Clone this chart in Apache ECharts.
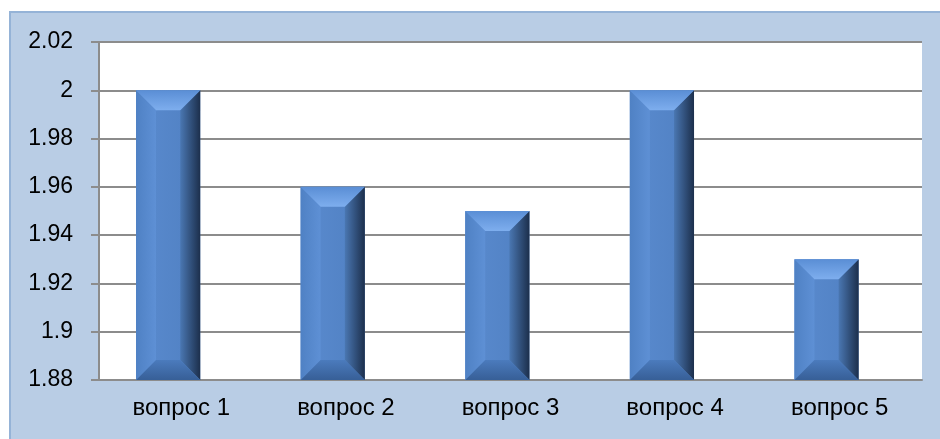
<!DOCTYPE html>
<html>
<head>
<meta charset="utf-8">
<script src="https://cdn.jsdelivr.net/npm/echarts@6/dist/echarts.min.js"></script>
<style>
  html, body { margin: 0; padding: 0; background: #fff; overflow: hidden; }
  #frame {
    position: absolute; left: 9px; top: 11px; width: 960px; height: 460px;
    background: #b9cde5; border-top: 2px solid #95b3d7; border-left: 2px solid #95b3d7;
  }
  #chart { position: absolute; left: 0; top: 0; width: 940px; height: 439px; }
</style>
</head>
<body>
<div id="frame"></div>
<div id="chart"></div>
<script>
// вопросы и средние оценки
const categories = ['вопрос 1', 'вопрос 2', 'вопрос 3', 'вопрос 4', 'вопрос 5']
const values = [2, 1.96, 1.95, 2, 1.93]
const yMin = 1.88
const yMax = 2.02
const yStep = 0.02

const chart = echarts.init(document.getElementById('chart'))

// bar with bevelled edges, like the office "3D" preset
function renderBevelBar(params, api) {
  const idx = api.value(0)
  const top = api.coord([idx, api.value(1)])
  const base = api.coord([idx, yMin])
  const band = api.size([1, 0])[0]
  const w = band * 0.39
  const cx = top[0] - band * 0.08
  const x0 = cx - w / 2
  const x1 = cx + w / 2
  const y0 = top[1]
  const y1 = base[1]
  const b = 20
  const poly = (pts, fill) => ({ type: 'polygon', shape: { points: pts }, style: { fill: fill } })
  const lin = (x, y, x2, y2, c0, c1) => new echarts.graphic.LinearGradient(x, y, x2, y2, [
    { offset: 0, color: c0 }, { offset: 1, color: c1 }
  ])
  return {
    type: 'group',
    children: [
      { type: 'rect', shape: { x: x0, y: y0, width: w, height: y1 - y0 },
        style: { fill: lin(0, 0, 1, 0, '#5a8bcf', '#5080c2') } },
      poly([[x0, y0], [x0 + b, y0 + b], [x0 + b, y1 - b], [x0, y1]], lin(0, 0, 1, 0, '#4f81c4', '#5e90d5')),
      poly([[x1, y0], [x1, y1], [x1 - b, y1 - b], [x1 - b, y0 + b]], lin(0, 0, 1, 0, '#4a77b2', '#1c2f4c')),
      poly([[x0, y1], [x1, y1], [x1 - b, y1 - b], [x0 + b, y1 - b]], lin(0, 0, 0, 1, '#4b7bbd', '#375f97')),
      poly([[x0, y0], [x1, y0], [x1 - b, y0 + b], [x0 + b, y0 + b]], lin(0, 0, 0, 1, '#5a8ed5', '#7eaeee'))
    ]
  }
}

chart.setOption({
  animation: false,
  textStyle: { fontFamily: 'Liberation Sans' },
  grid: {
    left: 99, right: 18, top: 42, bottom: 59,
    show: true, backgroundColor: '#ffffff', borderWidth: 0
  },
  xAxis: {
    type: 'category',
    data: categories,
    axisLine: { lineStyle: { color: '#8c8c8c', width: 2 } },
    axisTick: { length: 8, lineStyle: { color: '#8c8c8c', width: 2 } },
    axisLabel: { color: '#000', fontSize: 24, margin: 16 }
  },
  yAxis: {
    type: 'value',
    min: yMin,
    max: yMax,
    interval: yStep,
    axisLine: { show: true, lineStyle: { color: '#8c8c8c', width: 2 } },
    axisTick: { show: true, length: 8, lineStyle: { color: '#8c8c8c', width: 2 } },
    splitLine: { lineStyle: { color: '#8c8c8c', width: 2 } },
    axisLabel: {
      color: '#000', fontSize: 23, margin: 26,
      formatter: (v) => String(parseFloat(v.toFixed(2)))
    }
  },
  series: [{
    type: 'custom',
    renderItem: renderBevelBar,
    encode: { x: 0, y: 1 },
    data: values.map((v, i) => [i, v])
  }]
})
</script>
</body>
</html>
